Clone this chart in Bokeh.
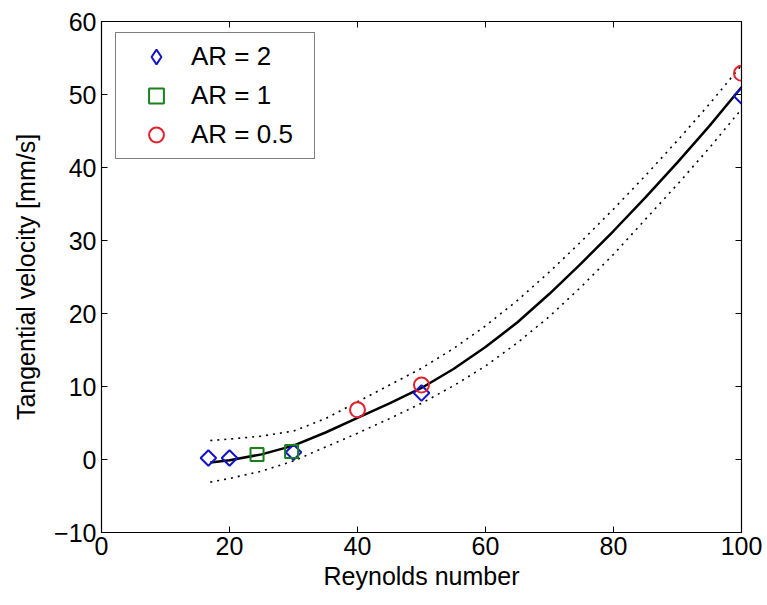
import math
from bokeh.plotting import figure
from bokeh.models import LinearAxis, SingleIntervalTicker, Range1d, Legend, LegendItem
from bokeh.embed import file_html
from bokeh.resources import INLINE

# --- data ---
re_ar2 = [16.7, 20, 30, 50, 100]
v_ar2 = [0.2, 0.2, 1.0, 9.1, 49.8]
re_ar1 = [24.3, 29.7]
v_ar1 = [0.7, 1.1]
re_ar05 = [40, 50, 100]
v_ar05 = [6.8, 10.2, 52.9]

re_fit = [17, 20, 25, 30, 35, 40, 45, 50, 55, 60, 65, 70, 75, 80, 85, 90, 95, 100]
v_fit = [-0.4, -0.1, 0.7, 1.9, 3.7, 5.7, 7.7, 9.8, 12.4, 15.4, 18.8, 22.7, 26.9, 31.3, 35.9, 40.7, 45.7, 51.0]
v_up = [2.6, 2.8, 3.2, 3.9, 5.6, 7.9, 10.2, 12.5, 15.2, 18.3, 21.8, 25.7, 29.9, 34.3, 38.9, 43.7, 48.7, 54.0]
v_lo = [-3.1, -2.6, -1.6, -0.2, 1.7, 3.6, 5.6, 7.7, 10.1, 12.8, 16.0, 19.6, 23.7, 28.1, 32.9, 37.7, 42.7, 48.0]

labels = ["AR = 2", "AR = 1", "AR = 0.5"]

FONT = "Liberation Sans"
BLUE = "#1414C8"
GREEN = "#1A801A"
RED = "#E2202A"

p = figure(width=767, height=605, output_backend="svg", toolbar_location=None,
           x_range=Range1d(0, 100), y_range=Range1d(-10, 60),
           min_border_left=101, min_border_right=26, min_border_top=21, min_border_bottom=73,
           x_axis_label="Reynolds number", y_axis_label="Tangential velocity [mm/s]")
p.grid.visible = False
p.outline_line_color = "black"
p.outline_line_width = 1.2
p.background_fill_color = "white"
p.border_fill_color = "white"

p.xaxis.ticker = SingleIntervalTicker(interval=20, num_minor_ticks=0)
p.yaxis.ticker = SingleIntervalTicker(interval=10, num_minor_ticks=0)

for ax in p.xaxis + p.yaxis:
    ax.major_tick_in = 6
    ax.major_tick_out = 0
    ax.minor_tick_line_color = None
    ax.axis_line_color = "black"
    ax.major_tick_line_color = "black"
    ax.major_label_text_font = FONT
    ax.major_label_text_font_size = "25px"
    ax.major_label_text_color = "black"
    ax.axis_label_text_font = FONT
    ax.axis_label_text_font_size = "25px"
    ax.axis_label_text_font_style = "normal"
    ax.axis_label_text_color = "black"
p.xaxis.major_label_standoff = 4
p.xaxis.axis_label_standoff = 4
p.yaxis.major_label_standoff = 5
p.yaxis.axis_label_standoff = 11

# mirrored tick marks on top and right (no labels)
top = LinearAxis(ticker=SingleIntervalTicker(interval=20, num_minor_ticks=0),
                 major_label_text_font_size="1px", major_label_text_color=None,
                 major_label_standoff=0, major_tick_in=6, major_tick_out=0,
                 minor_tick_line_color=None, axis_line_color="black")
right = LinearAxis(ticker=SingleIntervalTicker(interval=10, num_minor_ticks=0),
                   major_label_text_font_size="1px", major_label_text_color=None,
                   major_label_standoff=0, major_tick_in=6, major_tick_out=0,
                   minor_tick_line_color=None, axis_line_color="black")
p.add_layout(top, "above")
p.add_layout(right, "right")

# fit and bounds
p.line(re_fit, v_up, line_color="black", line_width=1.6, line_dash="2 5")
p.line(re_fit, v_lo, line_color="black", line_width=1.6, line_dash="2 5")
p.line(re_fit, v_fit, line_color="black", line_width=2.5)

# data
p.scatter(re_ar2, v_ar2, marker="square", angle=math.pi / 4, size=11,
          fill_color=None, line_color=BLUE, line_width=2)
r1 = p.scatter(re_ar1, v_ar1, marker="square", size=13, fill_color=None, line_color=GREEN,
               line_width=2)
r05 = p.scatter(re_ar05, v_ar05, marker="circle", size=15, fill_color=None, line_color=RED,
                line_width=2)
# key renderer: zero-size on the plot, the legend draws its own diamond size
r2_key = p.scatter(re_ar2, v_ar2, marker="diamond", size=0, fill_color=None,
                   line_color=BLUE, line_width=2, line_cap="butt")

lg = Legend(items=[LegendItem(label=labels[0], renderers=[r2_key]),
                   LegendItem(label=labels[1], renderers=[r1]),
                   LegendItem(label=labels[2], renderers=[r05])],
            location=(14, 373))
lg.border_line_color = "black"
lg.border_line_width = 1.2
lg.background_fill_color = "white"
lg.background_fill_alpha = 1
lg.label_text_font = FONT
lg.label_text_font_size = "26px"
lg.label_text_color = "black"
lg.padding = 5
lg.spacing = 2
lg.glyph_width = 70
lg.glyph_height = 37
lg.label_standoff = 0
lg.label_height = 30
lg.label_width = 118
lg.margin = 0
p.add_layout(lg, "center")

open("out.html", "w").write(file_html(p, INLINE))
